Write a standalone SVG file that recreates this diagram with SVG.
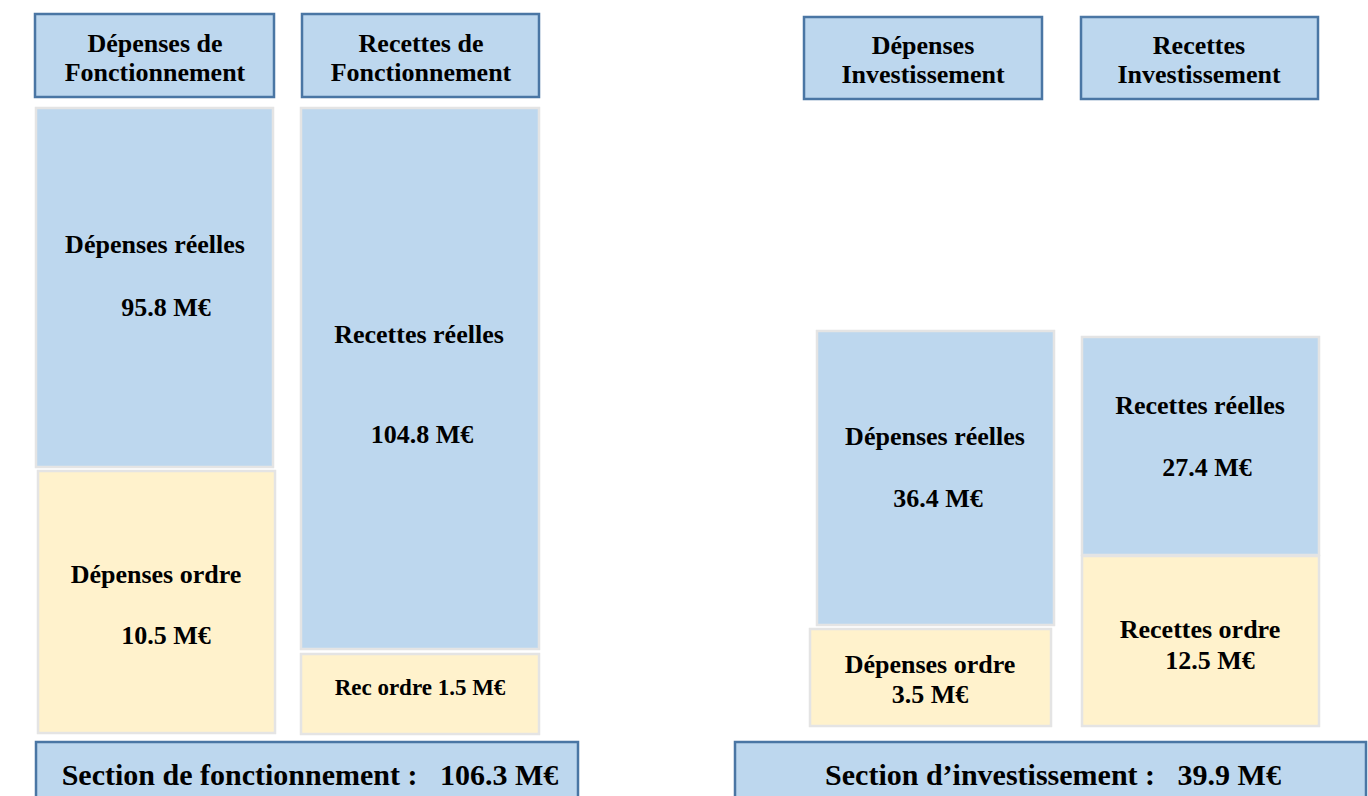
<svg xmlns="http://www.w3.org/2000/svg" width="1368" height="796" viewBox="0 0 1368 796">
<style>
.hdr{fill:#bdd7ee;stroke:#4a76a4;stroke-width:2.5}
.blue{fill:#bdd7ee;stroke:#e4e4e4;stroke-width:2.5}
.yel{fill:#fff2cc;stroke:#e4e4e4;stroke-width:2.5}
.sec{fill:#bdd7ee;stroke:#4a76a4;stroke-width:2.5}
text{font-family:"Liberation Serif","Times New Roman",serif;font-weight:bold;fill:#000;text-anchor:middle}
.t{font-size:26px}
.s{font-size:23px}
.big{font-size:30px}
</style>
<rect width="1368" height="796" fill="#fff"/>
<g id="hdr-dep-fonct"><rect class="hdr" x="35" y="14" width="239" height="83"/><text class="t" x="155" y="52">Dépenses de</text><text class="t" x="155" y="81">Fonctionnement</text></g>
<g id="hdr-rec-fonct"><rect class="hdr" x="302" y="14" width="237" height="83"/><text class="t" x="421" y="52">Recettes de</text><text class="t" x="421" y="81">Fonctionnement</text></g>
<g id="hdr-dep-inv"><rect class="hdr" x="804" y="17" width="238" height="82"/><text class="t" x="923" y="54">Dépenses</text><text class="t" x="923" y="83">Investissement</text></g>
<g id="hdr-rec-inv"><rect class="hdr" x="1081" y="17" width="237" height="82"/><text class="t" x="1199" y="54">Recettes</text><text class="t" x="1199" y="83">Investissement</text></g>
<g id="dep-reelles-fonct"><rect class="blue" x="36" y="108" width="237" height="359"/><text class="t" x="155" y="253">Dépenses réelles</text><text class="t" x="166" y="316">95.8 M€</text></g>
<g id="dep-ordre-fonct"><rect class="yel" x="38" y="471" width="237" height="262"/><text class="t" x="156" y="583">Dépenses ordre</text><text class="t" x="166" y="644">10.5 M€</text></g>
<g id="rec-reelles-fonct"><rect class="blue" x="301" y="108" width="238" height="541"/><text class="t" x="419" y="343">Recettes réelles</text><text class="t" x="422" y="443">104.8 M€</text></g>
<g id="rec-ordre-fonct"><rect class="yel" x="301" y="654" width="238" height="80"/><text class="s" x="420" y="695">Rec ordre 1.5 M€</text></g>
<g id="dep-reelles-inv"><rect class="blue" x="817" y="331" width="237" height="294"/><text class="t" x="935" y="445">Dépenses réelles</text><text class="t" x="938" y="507">36.4 M€</text></g>
<g id="dep-ordre-inv"><rect class="yel" x="810" y="629" width="241" height="97"/><text class="t" x="930" y="673">Dépenses ordre</text><text class="t" x="930" y="703">3.5 M€</text></g>
<g id="rec-reelles-inv"><rect class="blue" x="1082" y="337" width="237" height="218"/><text class="t" x="1200" y="414">Recettes réelles</text><text class="t" x="1207" y="476">27.4 M€</text></g>
<g id="rec-ordre-inv"><rect class="yel" x="1082" y="556" width="237" height="170"/><text class="t" x="1200" y="638">Recettes ordre</text><text class="t" x="1210" y="669">12.5 M€</text></g>
<g id="section-fonct"><rect class="sec" x="36" y="742" width="542" height="70"/><text class="big" x="310" y="785" xml:space="preserve">Section de fonctionnement :   106.3 M€</text></g>
<g id="section-inv"><rect class="sec" x="735" y="742" width="631" height="70"/><text class="big" x="1053" y="785" xml:space="preserve">Section d’investissement :   39.9 M€</text></g>
<g id="connectors"/>
</svg>
